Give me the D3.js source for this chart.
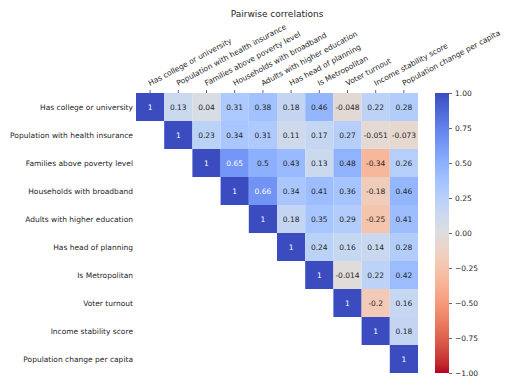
<!DOCTYPE html>
<html>
<head>
<meta charset="utf-8">
<script src="https://cdn.jsdelivr.net/npm/d3@7"></script>
<style>
  body { margin: 0; background: #fff; }
  text { font-family: "DejaVu Sans", sans-serif; fill: #262626; }
</style>
</head>
<body>
<svg id="chart" width="512" height="388"></svg>
<script>
// Data
var labels = ["Has college or university", "Population with health insurance",
  "Families above poverty level", "Households with broadband",
  "Adults with higher education", "Has head of planning", "Is Metropolitan",
  "Voter turnout", "Income stability score", "Population change per capita"];

// upper triangle, row by row (starting at the diagonal)
var row0 = [1, 0.13, 0.04, 0.31, 0.38, 0.18, 0.46, -0.048, 0.22, 0.28];
var row1 = [1, 0.23, 0.34, 0.31, 0.11, 0.17, 0.27, -0.051, -0.073];
var row2 = [1, 0.65, 0.5, 0.43, 0.13, 0.48, -0.34, 0.26];
var row3 = [1, 0.66, 0.34, 0.41, 0.36, -0.18, 0.46];
var row4 = [1, 0.18, 0.35, 0.29, -0.25, 0.41];
var row5 = [1, 0.24, 0.16, 0.14, 0.28];
var row6 = [1, -0.014, 0.22, 0.42];
var row7 = [1, -0.2, 0.16];
var row8 = [1, 0.18];
var row9 = [1];
var rows = [row0, row1, row2, row3, row4, row5, row6, row7, row8, row9];

var cbarTicks = [1, 0.75, 0.5, 0.25, 0, -0.25, -0.5, -0.75, -1];

// coolwarm lookup (matplotlib), used reversed
var cwStops = ["#3b4cc0","#445acc","#4d68d7","#5775e1","#6282ea","#6c8ef1","#779af7","#82a5fb",
  "#8db0fe","#98b9ff","#a3c2ff","#aec9fd","#b8d0f9","#c2d5f4","#ccd9ee","#d5dbe6",
  "#dddddd","#e5d8d1","#ecd3c5","#f1ccb9","#f5c4ad","#f7bba0","#f7b194","#f7a687",
  "#f49a7b","#f18d6f","#ec7f63","#e57058","#de604d","#d55042","#cb3e38","#c0282f","#b40426"];

var svg = d3.select("#chart");

var x = d3.scaleBand().domain(d3.range(10)).range([136, 418]);
var y = d3.scaleBand().domain(d3.range(10)).range([93, 373]);

var cw = d3.scaleLinear()
  .domain(d3.range(cwStops.length).map(function (i) { return i / (cwStops.length - 1); }))
  .range(cwStops)
  .interpolate(d3.interpolateRgb);
// reversed: +1 blue, -1 red
var color = function (v) { return cw((1 - v) / 2); };

function luminance(c) {
  var rgb = d3.rgb(c);
  var f = function (u) { u = u / 255; return u <= 0.03928 ? u / 12.92 : Math.pow((u + 0.055) / 1.055, 2.4); };
  return 0.2126 * f(rgb.r) + 0.7152 * f(rgb.g) + 0.0722 * f(rgb.b);
}

var fmtAnnot = d3.formatLocale({decimal: ".", thousands: ",", grouping: [3], currency: ["", ""], minus: "-"}).format(".2~g");

// flatten into cells
var cells = [];
rows.forEach(function (r, i) {
  r.forEach(function (v, k) { cells.push({row: i, col: i + k, value: v}); });
});

// Title
svg.append("text")
  .attr("x", 277).attr("y", 17)
  .attr("text-anchor", "middle")
  .style("font-size", "9px")
  .text("Pairwise correlations");

// Cells
var g = svg.append("g");
g.selectAll("rect")
  .data(cells)
  .enter().append("rect")
  .attr("x", function (d) { return x(d.col); })
  .attr("y", function (d) { return y(d.row); })
  .attr("width", x.bandwidth())
  .attr("height", y.bandwidth())
  .style("fill", function (d) { return color(d.value); });

g.selectAll("text.annot")
  .data(cells)
  .enter().append("text")
  .attr("class", "annot")
  .attr("x", function (d) { return x(d.col) + x.bandwidth() / 2; })
  .attr("y", function (d) { return y(d.row) + y.bandwidth() / 2; })
  .attr("dy", "0.35em")
  .attr("text-anchor", "middle")
  .style("font-size", "7.5px")
  .style("fill", function (d) { return luminance(color(d.value)) > 0.408 ? "#262626" : "#ffffff"; })
  .text(function (d) { return fmtAnnot(d.value); });

// Row labels
svg.append("g").selectAll("text")
  .data(labels)
  .enter().append("text")
  .attr("x", 133)
  .attr("y", function (d, i) { return y(i) + y.bandwidth() / 2; })
  .attr("dy", "0.35em")
  .attr("text-anchor", "end")
  .style("font-size", "7.5px")
  .text(function (d) { return d; });

// Column ticks + rotated labels on top
var colAxis = svg.append("g");
colAxis.selectAll("line")
  .data(labels)
  .enter().append("line")
  .attr("x1", function (d, i) { return x(i) + x.bandwidth() / 2; })
  .attr("x2", function (d, i) { return x(i) + x.bandwidth() / 2; })
  .attr("y1", 90).attr("y2", 93)
  .style("stroke", "#262626").style("stroke-width", 0.7);

colAxis.selectAll("text")
  .data(labels)
  .enter().append("text")
  .attr("transform", function (d, i) {
    return "translate(" + (x(i) + x.bandwidth() / 2) + ",86) rotate(-28)";
  })
  .attr("text-anchor", "start")
  .style("font-size", "7.5px")
  .text(function (d) { return d; });

// Colorbar
var defs = svg.append("defs");
var grad = defs.append("linearGradient")
  .attr("id", "cbar").attr("x1", 0).attr("y1", 0).attr("x2", 0).attr("y2", 1);
grad.selectAll("stop")
  .data(cwStops)
  .enter().append("stop")
  .attr("offset", function (d, i) { return i / (cwStops.length - 1); })
  .attr("stop-color", function (d) { return d; });

var cy = d3.scaleLinear().domain([-1, 1]).range([373, 93]);
svg.append("rect")
  .attr("x", 435).attr("y", 93)
  .attr("width", 14).attr("height", 280)
  .style("fill", "url(#cbar)");

var cbAxis = d3.axisRight(cy).tickValues(cbarTicks).tickFormat(d3.format(".2f")).tickSize(3).tickPadding(3);
var ax = svg.append("g")
  .attr("transform", "translate(449,0)")
  .call(cbAxis);
ax.select(".domain").remove();
ax.selectAll("line").style("stroke", "#262626").style("stroke-width", 0.7);
ax.selectAll("text").style("font-size", "7.5px").style("font-family", "DejaVu Sans, sans-serif").style("fill", "#262626");
</script>
</body>
</html>
